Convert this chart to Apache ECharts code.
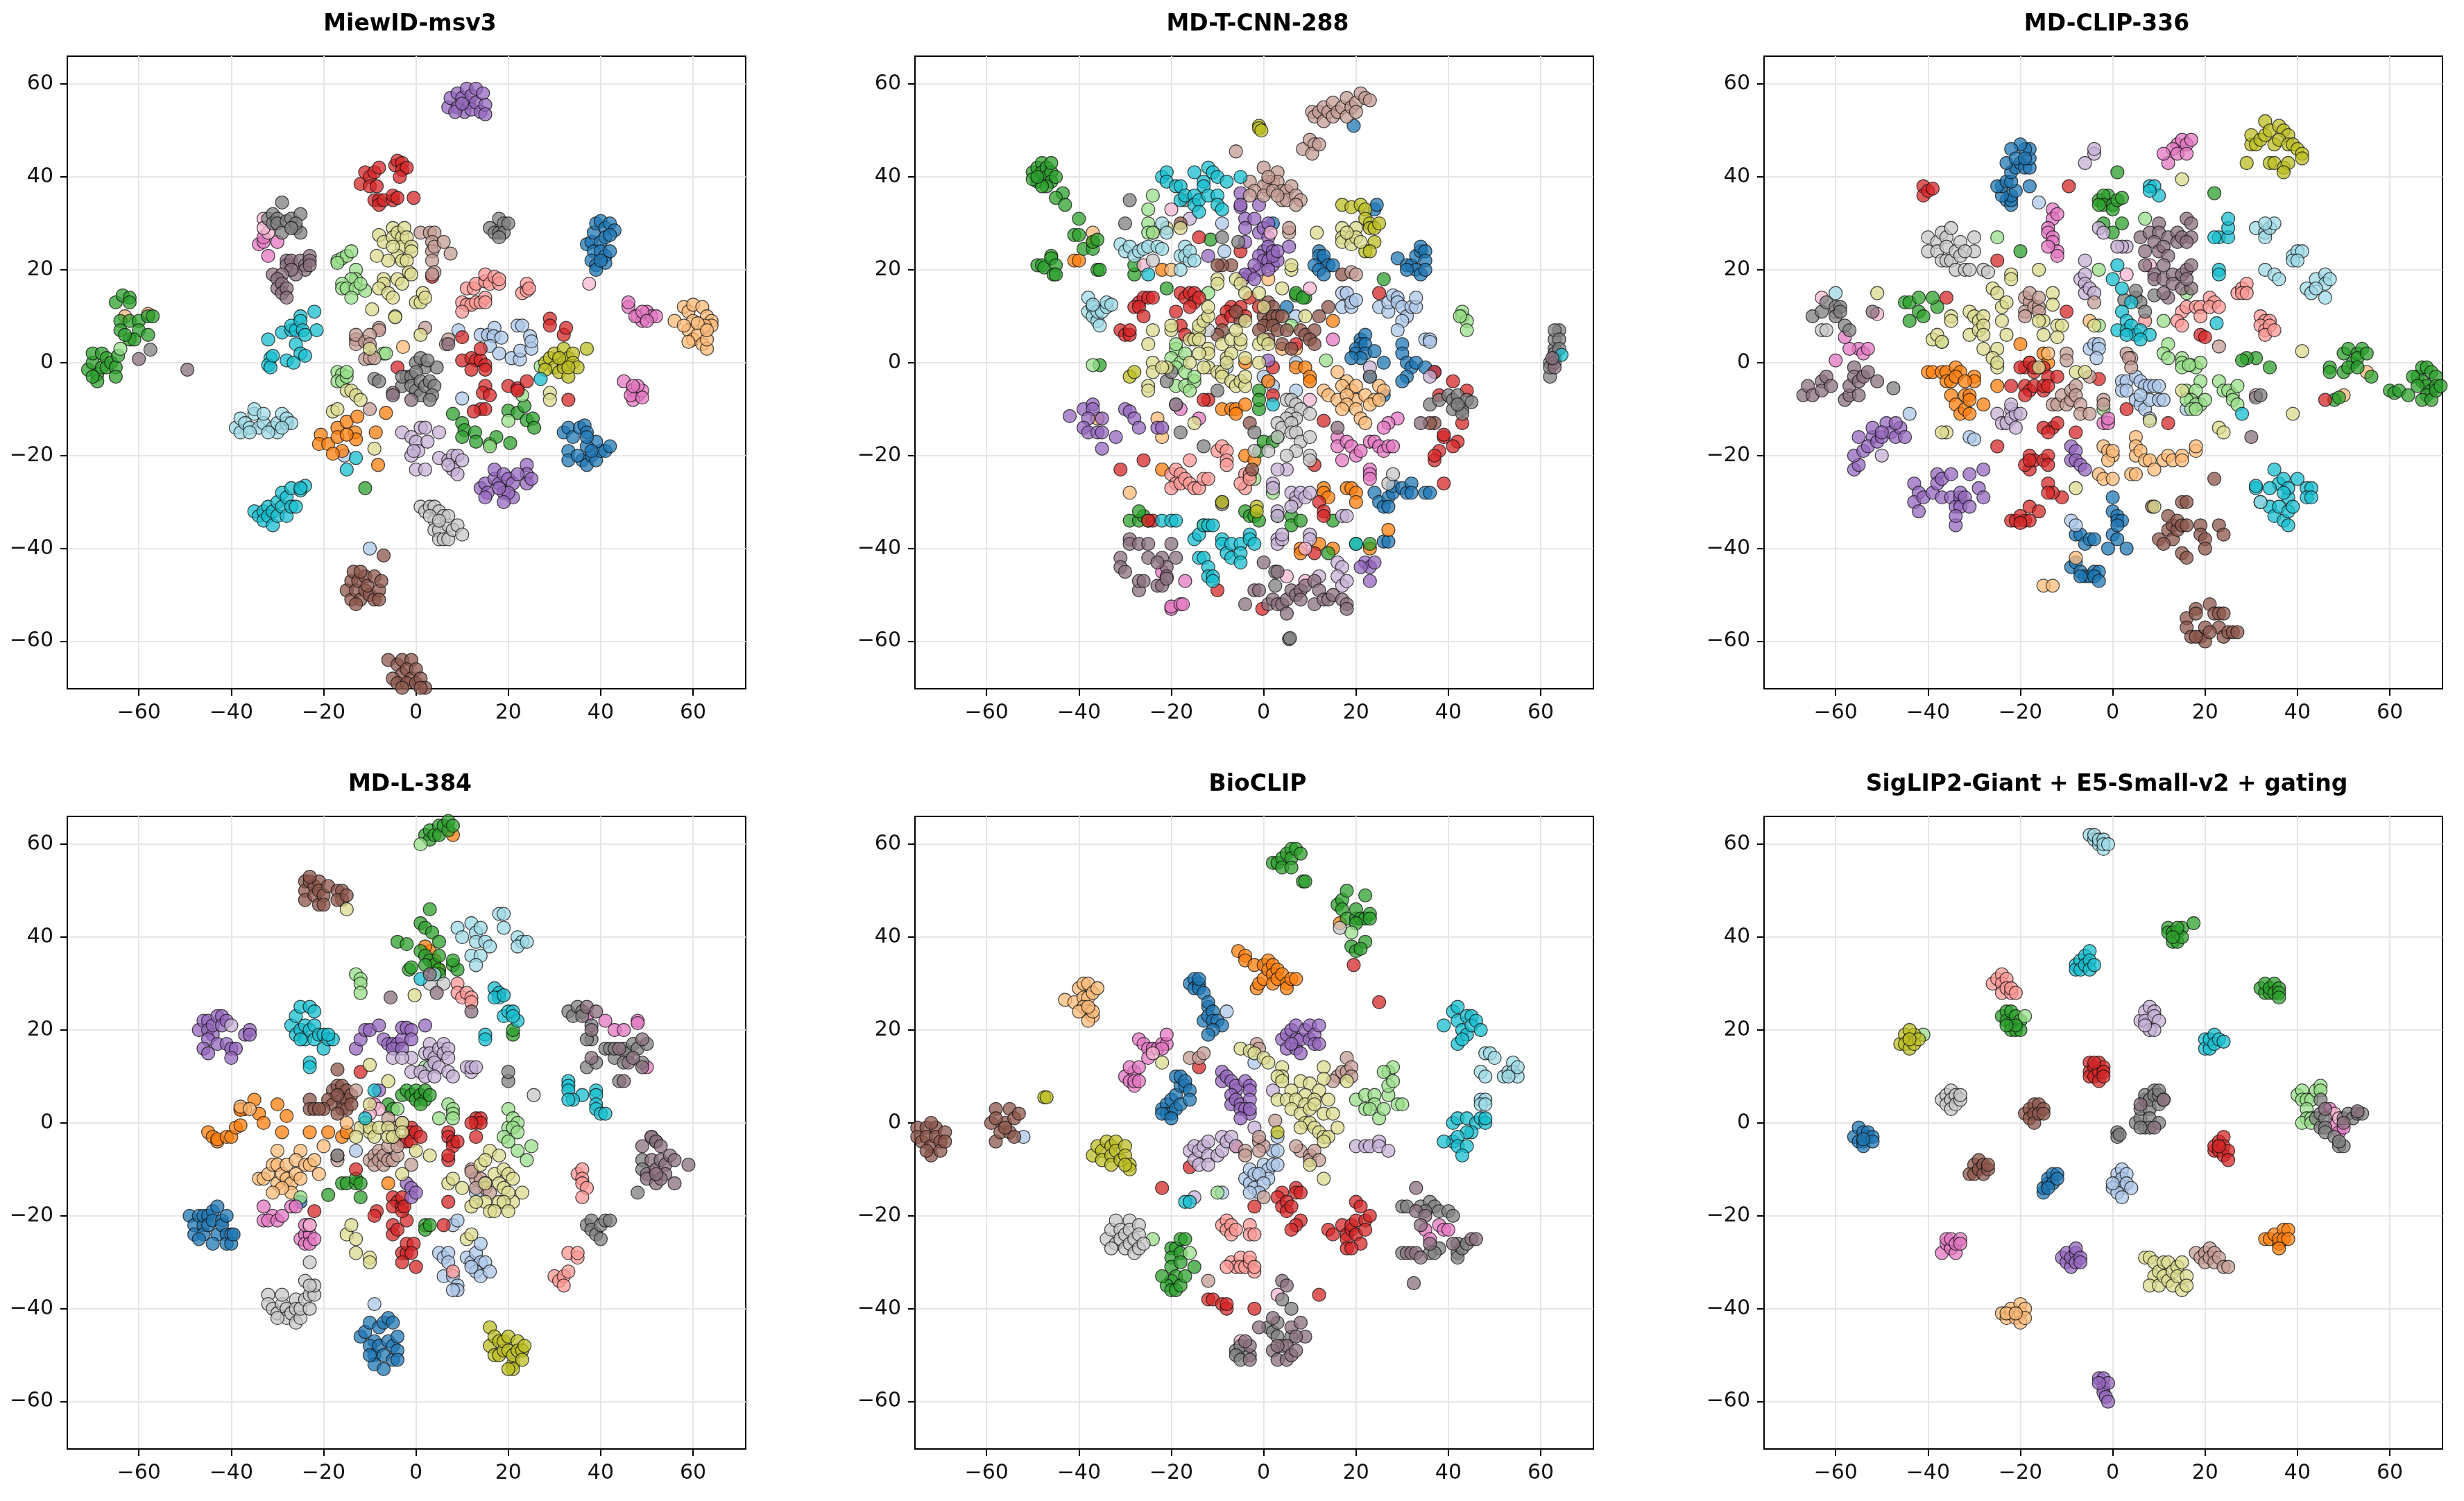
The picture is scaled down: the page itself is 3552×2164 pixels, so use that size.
<!DOCTYPE html>
<html>
<head>
<meta charset="utf-8">
<title>t-SNE embeddings</title>
<script src="https://cdn.jsdelivr.net/npm/echarts@6/dist/echarts.min.js"></script>
<style>
html,body{margin:0;padding:0;background:#fff}
#main{width:3552px;height:2164px}
</style>
</head>
<body>
<div id="main"></div>
<script>
// tab20 plus one muted mauve, the last one is where grey sits over pink in the source
const palette = ['#1f77b4','#aec7e8','#ff7f0e','#ffbb78','#2ca02c','#98df8a','#d62728','#ff9896','#9467bd','#c5b0d5','#8c564b','#c49c94','#e377c2','#f7b6d2','#7f7f7f','#c7c7c7','#bcbd22','#dbdb8d','#17becf','#9edae5','#8a6f7e'];
const titles = ['MiewID-msv3','MD-T-CNN-288','MD-CLIP-336','MD-L-384','BioCLIP','SigLIP2-Giant + E5-Small-v2 + gating'];

// each row is one palette colour, flat x,y,x,y
const miewidPts = [
[37,25.5,38,26,38.5,28,39,30,40,30.5,41,29,42,30,43,28.5,38.5,24,40,26,41,27,42,27.5,38,22,39,21,40,24,41,23,42,24,41,21.5,39,20,40,22,32,-15,33,-14,34,-16,35.5,-14,36.5,-13.5,37,-15,33,-19,33,-21,36,-21,37,-22,38,-20,39,-21,40,-19,41,-19,42,-18,39,-17,37,-18,38,-19,35,-20,37,-16],
[9.2,7,14,6,15.6,6,17,7.5,16.8,5.7,18.5,5.4,16,3.6,18,2,22,8,20.7,1,22.5,.7,22.6,2.6,24.7,5.7,25,3,25,4.6,10,-7.7,-10,-40,-15.5,-20,23,8],
[-20.6,-15.5,-21,-17.5,-19,-17.5,-17,-14,-15,-12.7,-12.7,-11.6,-13.2,-15,-13,-16.5,-16,-19,-18,-19.6,-6.5,-10.8,-8.7,-15,-8.2,-22,-17,-16,-15,-15.5],
[56,9,58,12,59,11,60,12.5,62,12,63,10,64,9,64,8,62.5,8,60,9,59,7,58,8,60,5,61,6,62,4,63,3,63,5,59,4.5,61,8.5,63,7,-2.8,3.4,-63,10,-58,10.5],
[-71,-1.5,-70,0,-70,2,-69,-2.5,-69,-4,-68,2,-68,-1,-67,1,-67,-1,-66,0,-65,-1,-65,-3,-70,-3,-64.5,1.5,-65,13,-63.5,14.5,-62,14,-62,13,-64,9,-64,7,-62,9,-60,9,-60,7,-58,10,-57,10,-58,6,-62,5,-61,5,-63,6,8,-11,10,-13,10.5,-14.5,10,-16,12.8,-15,13,-17,16,-17.5,17.4,-16,20.4,-17.3,20,-10.3,22,-10.8,23.5,-9.3,24,-12.4,25.3,-12,25.6,-14,-11,-27],
[-17,22,-16,22.5,-15,23,-14,24,-13,20,-13,18,-14,18,-16,17,-16,16,-15,16,-13,16,-11,15.5,-14,14,-12,17,-17,21.5,-17,-2,-16,-2.5,-17,-4,-16,-4,-15,-3,-15,-2,-7,2,-6.5,2,-64,3,27,-.8,20,-12.5,16,-18,23,-7],
[-12,38.5,-11,41,-10,40,-10,38,-9,41,-8.5,38,-8,42,-4.5,42.5,-4,43.5,-3,43,-3,41.5,-2,42,-3.5,40,-9,35,-8,35,-8,34,-7,35,-5,35,-5,36,-4,35.5,-.5,35.5,29,9.5,29,8,32,6,32.5,7.5,10,5.5,10,.5,12,1,13,.5,12,-1.5,14,.5,15,-.5,15,-1.5,14,3,15,-5,14.5,-6.5,16,-7,14,-10,15,-10,12.5,-10.5,20,-5,22,-5.5,22,-6,24,-4,33,-8,-4,-1,3.5,18.5],
[11,16,12.5,16,13,17,15,17.5,15,19,16,17,17,18.5,18,17,18,18,10,13,11,12.5,12,12.5,13,13,14,13,15,14,15,13,23,15,24,15.5,24,17,24.5,16,10,11],
[7,55,7.5,57,9,58,9,55,10,57,10.5,54,11,59,11.5,56,12,54.5,12,57.5,13,59,13,56,14,54,14.5,58,15,55.5,15,53.5,8.5,54,10,55.8,14,-27,15,-26,15.5,-28,17,-25,17,-23,18,-26,19,-28,19,-24,20,-25,21,-26,21,-29,20,-28,24,-22,24,-24,24,-26,25,-25,15,-29,18,-27,22,-24,19,-30],
[-3,-15,-1,-16,0,-17,1,-14,2,-14,2.5,-17,5,-15,.5,-19,0,-23,2,-23,-1,-20,-.5,-19,5,-20.5,7,-21,8,-20,9,-20,8,-23,7,-22,10,-21,9,-24],
[-15,-49,-14,-47,-13.5,-45,-14,-51,-13,-49,-12.5,-47,-12,-51,-11,-46,-11,-49,-10,-50,-10.5,-48,-9,-46,-9,-51,-8,-49,-7.5,-47,-8,-51,-12,-45,-13,-52,-6,-64,-4,-65,-3,-64,-1,-64,-3,-67,-2,-66,-1,-68,0,-66,-5,-68,-4,-69,-2,-69,0,-69,1,-68,2,-70,1,-70,-3,-70,-7,-41.5],
[1,28,3,28,4,28,3.5,26,3.5,24,4,25,3.5,22,6,26,7.5,23.5,4,19.5,3.5,19,-13,5,-13,4,-13,6,-11,4.5,-11,.8,-10,1,-8,7.5,-8,7,-9,1,2,7.5,-10,6,-10,4,6.5,4,7,5,-10,-10],
[46,12,46,13,48,10,49,9,50,11,51,10,52,10,47.5,10,49,11,50,9,45,-4,47,-6,48,-7,49,-6,47,-8,46.5,-7,48,-5,49,-7.5,47,-5,-34,25.5,-33,26,-33,27,-32,23,-30,26],
[-33,31,-32,28,37.5,17,-33,29],
[-32,31,-31,32,-31,30,-30,31,-30,30,-29,28,-29,34.5,-28,30.5,-27,31,-25,32,-26,29,-25,28,-26,30,-27,29,2,-1,0,0,1,1,-2,-3,-3,-5,-3,-3,-1,-3,-1,-5,0,-2,0,-6,1,-4,1,-7,2,-5,3,-4,4,-5,3.5,-7,4.5,-1,3,-8,-9,-3.5,-8,-4,2.5,.5,16,29,17,28,18,31,18,28,19,30,19,28,20,30,18,27,-57.5,2.8],
[1,-31,2,-32,3,-31,4,-31,5,-32,6,-33,4,-34,3,-33,4,-36,5,-36,5,-38,6,-38,7,-38,7,-35,8,-36,9,-35,10,-37,7,-33,5,-34],
[28,0,29,1,30,2,30,-1,31,-2,32,3,32,0,32,-1,33,1,33,-3,34,2,34,0,35,-1,37,3,28,-1.5,31,1,33,-1],
[-8,27.5,-7,26,-5,29,-5,27,-4,28,-3,27,-3,25,-2.5,29,-2,27,-1,25,-1,24,-4,23,-3,22,-5,25,-6,22,-2,22,-8.5,23,-7,18,-7,17,-4,18,-3,17,-8,16,-6,15,-5,14,-1.5,19.5,-1,19,0,13,1,13,1.5,15,2,14,-9.5,11.5,-4.5,10,-4.5,9.8,1,6,-10,3,-15,-6,-14,-6,-13,-7,-12,-8,-18,-10.5,-17,-10,29,-6.5,29,-8,-9,-18.5],
[-29,6.5,-27,7,-27,8,-26,7,-25,10,-25,9,-24.5,7,-24,6,-21.5,7,-32,5,-26,4,-25,2,-24,1.5,-28,.5,-26.5,0,-31.5,1,-32,-.5,-31.5,-1,-31,1.5,-35,-32,-34,-33,-33,-32,-33,-34,-32,-31,-32,-33,-31,-35,-31,-32,-30,-30,-30,-33,-29,-28,-29,-31,-28,-29,-28,-33,-27,-27,-27,-31,-26,-31,-25,-27.5,-24,-26.5,-25,-27,27,-3.5,-13,-20.5,-15,-23,-22,11],
[-39,-14,-38,-12,-38,-15,-37,-13,-36,-14,-35,-11,-35,-10,-34,-14,-33,-13,-33,-11,-31,-14,-30,-15,-30,-13,-29,-11,-28,-13,-28,-12,-27,-13,-29,-14,-32,-15,-36,-15],
[-28,22,-28,21,-27,22,-25,22,-24,21,-24,20,-26,19,-27,20,-23,23,-23,22,-23,21,-31,19,-29,19,-30,18,-30,16,-29,17,-29,15,-28,16,-28,14,-60,.8,-49.5,-1.5,-5,-6.5,-1,-8,7,4,-5,-7]
];

const mdtcnnPts = [
[24,33,24.5,34,12,24,12,23,13,22,11,21,13,23,14,21,12,20,13,19,15,21,29,22.5,31,21,32,21,33,23,34,24,34,25,35,24,35,22,33,20,34,19,35,20,31,20,21,5,22,6,21,4,20,3,20,2,22,4,22,2,21,1,19,1,24,2.5,26,0,30,4,30,2,31,0,32,-1,33,0,35,-1,37,-2,31,-3,30,-4,23,-3,24,-28,25,-30,26,-31,27,-29,27,-31,28,-28,28,-26.5,30,-27,31,-28,32,-26,32,-28,35,-28,36,-28,26,-38.5,27,-38.5,5,12,2,30,26,-7,19.5,51],
[17,15,18,15,17,12,19,12,19,13,20,13.5,25,12,27,11,27,13,28,14.5,29,14,29,13,30,12,31,10,30,9,32,12,33,12,33,14,29,7,35,5,36,5,36,4.5,-9,30,-8.5,24,0,-3,1,-4,2,-5,7,-6,7,0,-8,-1,7,10],
[-41,22,-40,22,-22,20,-9,-10,-7,-10,-6,-10,-6,-11,-4,-9,13,-27,13,-28,14,-29,18,-27,19,-27,20,-28,20,-30,-22,-23,-4,-20,-2,-21,-4,0,7,-1,9,-1,1,-4,10,-3,10,-4,8,-40,8,-41,23,-40,27,-36,15,-40,12,-39,15,9,-37,26],
[16,-2,18,-4,17,-5,19,-6,20,-5,20,-8,22,-7,24,-8,25,-5,26,-6,13,-6,14,-7,16,-8,18,-7,18,-9,17,-10,20,-10,21,-12,22,-13,23,-9,25,-8,-22,-16,-23,-12,-29,-28,-36,-12,-24,28,-20,20,-37,28,1,18,4,3,7,3],
[-50,41,-49,42,-48,43,-49,39,-48,41,-47,42,-47,40,-46,41,-46,39,-50,39.5,-47,38,-45,40,-48,38,-49,40,-46,43,-43.5,36.5,-45,35.5,-43,34,-40,31,-41,27.5,-40,27.5,-39,24.5,-37,24.5,-37,26,-36,26.5,-36,20,-35.5,20,-49,21,-48,21,-47.5,20.5,-46,23,-46,22.5,-45,21,-45.5,19,-45,19,-35.5,-.5,7,14.5,7,15,9,14,8.5,14,-11.5,26.5,-29,-34,-27,-34,-26,-33,-25,-34,-27,-32,-4,-32,-3,-33,-2,-33,-1,-34,15,-34,3,-33,6,-33,6,-35,8,-34,20,-39,-1,-19,0,-17,2,-17,3,-16,-1,-10,-21,16,-28,19,-28,21,26,18,-1,-6,-1,-8,14,-41,23,-39],
[-24,36,-25,33,-25,30,-25,28,-24,28,-19,3,-20,1,-18,0,-17,2,-19,-1,-17,-2,-19,-5,-17,-5,-15,-4,-16,-6,-15,-3,-12,15,43,10,43,11,44,9,44,7,42.5,10,-37,-.5,-19,4,13.5,.5,6,8,-3,-24,2,-28,-2,-25],
[-27,13,-26,14,-25,14,-28,12,-27,12,-26,10,-24,14,-31,7,-30,6,-29,6,-29,7,-18,15,-17,14,-16,15,-15,15,-15,13,-14,14,-16,12,-19,11,-14,27,-12,-8,-13,-8,-7,12,-8,11,-9,9,-7,10,-3,14,-5,12,-1,12,-4,10,2,-1,13,-12.5,-31,-23,-26,-21,-24,-34,-25,-34,7,4,-10,-49,-.3,-53,-5,24,39,-16,39,-15.5,38,-19,37,-21,37,-20,42,-17,41,-18,39,-26,12,-30,13,-32,13,-33,25,15,37,-2,41,-4,44,-6,43,-13,38,-7,11,-41,-18,8,-17,6,2,-7,11,-22],
[-20,-24,-19,-23,-18,-24,-19,-26,-20,-27,-18,-26,-17,-25,-16,-26,-15,-27,-14,-27,-13,-25,-12,-25,-10,-19,-9,-18,-8,-19,-8,-21,-8,-22,-4,-24,-3,-24,-4,-27,-5,-26,-3,-25,-16,-21],
[-1,34,-5,33.5,-4,31,-4,29,-2,31,-1,28,0,29,1,30,1,27,-4,26,0,24,1,25,2,24,-1,23,0,22,1,22,2,21,3,22,-1,20,2,23,3,24,1,20,-2,21,-3,19,-4.5,18,-4,19,-2,18,5.5,25,1,.5,-42,-11.5,-39,-10,-37,-9,-37,-10,-38,-12,-39,-14,-38,-15,-36,-15,-35,-15,-35,-12,-32,-16,-35,-18.5,-30,-10,-29,-10.5,-28,-12,-27,-14,-23,-14,-22,-14,22,-43,23,-44,23,-47,21,-44,24,-43,-5,36.5,-5,34,-12,23],
[3,-32,6,-28,7,-29,7,-30,6,-31,8,-28,9,-29,10,-28,2,-26,2,-27,3,-33,3,-38,3,-39,4,-38,4,-37,10,-37,10,-38,17,-33,18,-33,16,-43,17,-44,16,-46,17,-48,18,-47,12,-46,-16,31,5,-23,3,-23,23,-1,36,-3],
[1,13,2,12,0,10,1,9,2,10,3,10,4,10,0,8,2,8,3,7,-1,7,5,7,8,7,9,6,11,7,10,5,11,4,-9,7,-10,6,-5,9,-6,11,14,12,4,4,6,3,-7,21,-9,21,-10,21,17,19,37,-13,36,-13,-18,30,-3,-13,-2.5,-23,12,10,1,5],
[-6,45.5,0,42,1,39,2,39,3,41,3,39,1,37,0,38,-3,39,-2,37,4,37,5,37,6,38,4,35,5,35,7,36,8,35,7,34,0,36,2,37,1,40,3,36,5.5,28,5.5,29,-3,36,10.5,54,11,53,12,54,13,52,13,55,14,54,15,53,15,56,16,54,17,55,18,53,18,57,19,55,20,56,20,54,21,58,22,57,23,56.5,8.5,46,10,48,11,47,10.5,45,12,47,19,19.5,20,19],
[16,-16,16,-18,17,-21,18,-17,19,-18,20,-20,21,-19,23,-17,24,-17,25,-18,26,-19,27,-18,28,-18,23,-23,23,-24,23,-25,29,-12,27,-13,26,-14,-20,-53,-20,-52.5,-18,-52,-17.5,-52,-17,-47,-14,-12,-18,-10,15,5,-22,-45,-19,-9],
[1.5,28,-20,33,10,-8,9,-47,-26,21,10,16,9,-40,5,-46],
[36,-9,38,-8,40,-7,41,-8,42,-7,41,-10,43,-10,43,-11,44,-8,45,-8.5,42,-9,62,-3,62,0,63,1,63,3,63,5,64,7,63,7,64,5,63,2,62,-1,63,0,64,3,-29,35,-30,30,-17,35,-9,27,-10,-6,-18,-15,-19,-9,-13,-18,-9,-30,-9,-30.5,-21,-4,-20,-2,-5.5,26,5.5,-59.5,5.7,-59.3,2.5,-48,2.5,-45,23,-3,-2,-15],
[5,-8,6,-8,7,-9,6,-11,8,-10,7,-12,5,-12,3,-13,4,-14,6,-13,6,-15,7,-15,8,-17,10,-11,10,-16,3,-16,7,-19,5,-20,10,-20,10,-21,27,-26,28,-24,-2,-19,1,-19,-24,22,-12,7],
[-1,51,-1,50.5,-.5,50,17,34,19,33.5,21,34,22,33,22,31,23,30,23,29,24,29,25,30,24,26,22,24,23,24,-1.5,-31,-1.5,-32,-9,-30,-29,-3,-28,-2,-13,-35],
[17,29,17,27,17,26,19,27,19,25.5,20,29,20,27,21,26,18,28,-24,7,-20,7,-16,5,-15,5,-14,7,-14,5,-14,8,-13,9,-12,10,-12,3,-12,2,-14,2,-12,-1,-13,-1,-8,1,-7,2,-9,4,-7,5,-5,4,-5,5,-6,7,-4,9,-4,1,-1,4,0,5,1,4,-24,0,-21,-1,-16,0,-10,-2,-9,-2,-9,-3,-7,-4,-6,-5,-5,-4,-4,-5,-4,-3,-25,-5,-25,-6,-25,4,-20,8,-10,18,-10,17,-6,18,-5,17,-4,15,0,12,4,16,6,20,6,21,-12,12,-1,15,9,10,-1,0,11.5,28,-15,-13,-21,29,-18,29,-24,-2,-22,-1,-8,0],
[-22,-34,-20,-34,-19,-34,-15,-38,-14,-37,-13,-35,-12,-35,-11,-35,-14,-42,-13,-42,-12,-44,-12,-46,-11,-46,-11,-47,-9,-38,-9,-39,-8,-41,-7,-39,-7,-42,-5,-39,-5,-41,-5,-43,-3,-37,-3,-38,-2,-39,-25,19,2,-9,20,-39,64.5,1.7,-22,40,-21,41,-21,39,-19,38,-18,38,-18,35,-17,36,-15,41,-15,36,-15,34,-14,35,-14,32.5,-13,39,-13,38,-12,42,-12,36,-11,41,-10,40,-10,36,-10,34,-9,33,-8,39,-5,40],
[-31,25.5,-30,24,-29,25,-28,23,-27,24,-26,24.5,-25,25,-23,25,-22,24.5,-22,30,-21,28,-18,23,-17,25,-17,23,-16,22,-16,24,-15,22,-18,20,-38,14,-38,11,-37,12,-37,10,-36,9,-36,11,-35,11,-34,12,-34,13,-33,12.5,-37,12.5,-35.5,8],
[-31,-42,-31,-44,-30,-45,-29,-38,-29,-39,-27,-39,-25,-39,-25,-42,-22,-42,-21,-44,-21,-46,-19,-42,-20,-39,-27,-49,-27,-47,-26,-47,-23,-48,-22,-48,-21,-46.5,-4,-52,-2,-49,-1,-49,0,-43,1,-52,2,-51,3,-52,3,-45,4,-52,5,-51,5,-54,6,-49,7,-50,8,-49,8,-51,9,-48,11,-47,11,-52,12,-49,13,-51,14,-51,15,-50,17,-51,18,-52,18,-53,63,-1,62.5,1,16,-14,34,-13,-23,-43]
];

const mdclipPts = [
[-23,35,-22,34,-22,35,-22,36,-21,37,-24,36,-24,38,-25,38,-23,39,-22,39,-22,41,-21,42,-20,43,-19,42,-18,42,-18,44,-18,46,-19,46,-20,47,-22,46,-23,43,-18,38,-21,44,-19,44,0,-29,0,-32,1,-33,1,-34,2,-34,0,-37,1,-35,1,-38,3,-40,-1,-40,-8,-37,-7,-37,-6,-39,-5,-38,-4,-38,-9,-44,-8,-43,-7,-45,-6,-46,-5,-46,-4,-45,-3,-45,-4,-46,-3,-47,-7,-46],
[-16,34.5,-44,-11,-31,-16,-30,-16.5,-5,3,-4,4,-3,4,-3,3,-3.5,1,2,-4,3,-4,5,-3,6,-4,7,-5,8,-5,9,-5,10,-5,2,-6,3,-6,5,-8,6,-9,7,-10,8,-8,10,-8,11,-8,6,-7,8,-12,16,-10,-9,-34,-8,-35],
[-40,-2,-39,-2,-37,-2,-36,-2,-34,-1,-36,-4,-35,-4,-33,-2,-30,-3,-30,-4,-35,-7,-34,-9,-32,-7,-31,-7,-33,-11,-32,-10,-31,-11,-28,-9,-31,-8,-25,-5,-20,4,-15,2,-14,0,-34,-3,-32,-4],
[-2,-18,-1,-19,0,-20,-1,-21,0,-19,5,-16,5,-18,5,-20,6,-19,7,-21,8,-21,9,-23,11,-21,12,-20,13,-21,15,-20,15,-21,18,-19,18,-18,-3,-24,-2,-25,0,-25,4,-24,5,-24,-15,-48,-13,-48,-8,-42,50,-7,-5,9,55,-2,-18,0,-14,2],
[-45,13,-44,13,-42,14,-42,11,-41,10,-44,9,-38,12,-39,14,-1,36,-3,35,-2,36,-2,34,-3,34,0,34,0,33,1,35,2,35.5,1,41,2,30,-2,30,0,28,-20,24,22,36.5,31,1,29,1,28,.5,34,-1,50,2,51,3,52,0,53,2,54,3,53,1,55,2,47,-1,47,-2,50,-2,51,-1,53,-1,60,-6,61,-6.5,62,-6,64,-7,66,-3,67,-1,68,-1,69,-2,70,-3,67,-4,68,-5,69,-6,70,-5,68,-7,67,-8,69,-8,70,-6,71,-5,65,-3,66,-5,48,-8,49,-7.5,56,-3],
[-25,27,-37,4.5,-3,20,-3,8,11,9,12,4,11,2,12,1,15,1,15,0,15,-1,17,-.5,18,-1,19,0,16.5,-.5,16,-6,19,-4,18,-6,17,-8,16,-8,19,-9,18,-9,20,-8,23,-4,24,-6,25,-6,26,-7,27,-5,26,-8,27,-9,17,-10,18,-10,7,31,16,15,-2,-10],
[-41,38,-41,36,-40,37,-39,37.5,-9.5,38,-10,11,-19,-1,-20,-1,-18,0,-17,-2,-17,-1,-15,-1,-14,-3,-12,-3,-19,-5,-18,-6,-17,-5,-15,-6,-15,-5,-14,-5,-13,-14,-15,-14,-14,-15,-12,-13,-11,-29,-14,-26,-13,-28,-14,-28,-18,-20,-18,-23,-19,-22,-17,-21,-15,-21,-14,-20,-14,-22,-18,-21,-22,-34,-21,-34,-20,-33,-19,-34,-18,-31,-16,-32,-18,-34,-20,-34.5,12,-13,3,-10,-3,-3.5,19,6,20,5.5,-36,14,-25,22,-22,-5,-25,-18,-8,-15,-19,-7,46,-8],
[15,11,16,12,14,9,15,8,18,12,19,12,19,10,21,14,22,13,21,12,23,12,27,15,28,16,29,17,28,15,29,15,32,10,33,9,34,9,32,8,33,7,34,8,33,6,35,7,7,9],
[-56,-23,-55,-22,-56,-20,-54,-19,-55,-16,-52,-16,-53,-18,-51,-17,-50,-16,-49,-13,-48,-15,-47,-16,-46,-14,-45,-16,-52,-14,-47,-13,-50,-15,-43,-26,-42,-28,-43,-30,-42,-32,-41,-29,-39,-28,-38,-24,-38,-26,-37,-25,-35,-24,-37,-29,-35,-29,-34,-31,-33,-29,-33,-28,-33,-31,-32,-29,-31,-31,-31,-24,-29,-27,-28,-23,-28,-29,-34,-35,-34,-33,-9,-18,-9,-21,-8,-19,-8,-21,-7,-22,-6,-23],
[-6,43,-4,45,-4,46,3,25,2,25,-3,29,-2,28,1,25,-7,18,-6,19,-6,17,-6,15,-5,16,-4,15,-6,22,-25,-11,-24,-13,-23,-13,-22,-10,-22,-12,-21,-11,-21,-14,-20,-11,-50,-20,-22,-9],
[12,-36,13,-35,13,-38,14,-36,12,-33,14,-34,15,-35,10,-38,11,-39,16,-35,15,-30,16,-30,15,-41,16,-42,19,-35,19,-37,20,-38,20,-40,23,-35,24,-37,22,-25,8.5,-31,16,-55,16,-57,18,-53,18,-54,17,-59,19,-59,20,-57,20,-60,21,-52,22,-54,23,-54,23,-57,24,-59,24,-54,25,-58,26,-58,27,-58,21,-58,18,-59],
[-19,14,-18,13,-19,11,-18,15,-17,12,-16,12,-19,10,-16,11,-13,-9,-12,-9,-11,-7,-10,-9,-9,-8,-9,-6,-8,-5,-8,-7,-7,-9,-7,-11,-5,-11,-2,-8,-2,-9,-4,13,-5,-3,3,2,4,1,3.5,1,23,3.5,-10,2,-10,.5,4,-1,-16,14],
[-13,33,-13,31,-12,32,-14,29,-14,28,-13,27,-13,26,-12,24,-14,25,-12,23,14,47,15,48,16,47,17,48,13,46,12,43,14,45,16,45,11,45,-2,-13,-1,-13,-1,-12,-60,.5,-55,3,-54,2,-53,3,-57,3,-58,5.5],
[-63,14,3,19,8,21,-60,11,-51,10.5,31,-7],
[-65,10,-63,11,-62,13,-60,12,-59,12,-60,10,-59,11,-58,8,-57,7,-47.5,-5.5,31,-7.5,5,14,6,13,5,15.5,2.5,13.5,7,11,32,-7,9,14.5],
[-40,27,-40,24,-38,26,-37,28,-36,27,-35,29,-38,24,-36,25,-37,22,-36,22,-35,22,-34,24,-33,26,-33,23,-34,20,-32,20,-31,20,-30,24,-30,27,-28,20,-27,19.5,-32,24,-63,7,-62,7],
[29,43,30,47,30,49,31,47,32,48,33,52,33,49,34,50,35,47,36,51,37,50,38,49,36,48,38,47,39,47,40,46,41,45,41,44,34,43,35,43,37,42,38,43,37,41],
[-51,15,-39,5,-38,6,-37,4.5,-35,10,-35,9,-31,11,-31,6,-30,10,-29,9,-29,7,-28,10,-28,8,-28,6,-28,3,-26,16,-25,15,-24,12,-23,13,-24,9,-25,3,-26,1,-25,-1,-23,6,-22,19,-22,18,-16,20,-16,-1,-15,6,-13,15,-13,12.5,-15,9,-16,9,-12,8,-11,8,-12,5.5,-8,-2,-6,-2,-4,8,-25,0,-36,-15,-37,-15,23,-14,24,-15,15,39.5,39,-11,41,2.5,15,-6,-8,-27,9,-31,8,-12.5],
[8,38,9,38,10,36,8,37,23,27,25,27,25,29,25,31,22,27,23,20,23,19,0,18,1,21,2,16,2,11,4,13,1,7,3,9,3,7,4,8,5,6,3,6,6,7,8,6,6,5,31,-27,31,-26.5,32,-30,34,-31,35,-33,36,-31,37,-34,38,-32,38,-35,38,-29,39,-31,36,-26,37,-25,38,-27,35,-23,37,-28,40,-25,42,-27,43,-27,42,-29,43,-29,34,-27,22.5,8.5,28,-11],
[31,29,33,28,33,27,34,29,35,30,33,30,33,20,35,19,36,18,39,23,40,24,39,22,41,24,40,22,42,16,43,15,44,18,46,19,46,17,47,18,46,14,-60,15,32,-30,44,16],
[-67,-7,-66,-5,-65,-7,-63,-4,-63,-6,-62,-3,-61,-5,-58,-8,-57,-7,-57,-5,-56,-1,-56,-3,-55,-7,-55,-4,-54,-3,-53,-2,-51,-4,6,27,8,28,10,30,10,28,12,27,14,28,16,31,17,30,14,26,15,27,17,27,16,26,7,24,9,26,10,24,11,25,12,23,7,21,11,21,9,19,9,18,11,18,12,14,13,19,13,17,15,16,15,19,16,20,17,21,17,16,16,18,30,-16,-52,11,11,15]
];

const mdlPts = [
[-49,-20,-48,-22,-48,-24,-47,-20,-46,-22,-46,-24,-46,-20,-45,-20,-45,-22,-44,-19,-44,-21,-43,-18,-43,-24,-42,-21,-42,-22,-41,-24,-41,-26,-40,-24,-40,-26,-41,-20,-44,-26,-47,-25,-39.5,-24,-12,-46,-11,-45,-10,-43,-9,-47,-8,-44,-7,-43,-6,-42,-5,-43,-10,-48,-9,-50,-9,-52,-8,-48,-7,-50,-7,-53,-6,-47,-5,-48,-5,-51,-4,-46,-4,-49,-4,-51,-10,-50,-25,-17],
[5,-28,6,-29,7,-28,7,-30,11,-29,12,-30,13,-28,14,-26,14,-30,13,-32,14,-33,15,-30,16,-32,12,-31,6,-33,8,-33,9,-35,9,-36,8,-36,-13,-6,-9,-39,8,-22,9,-21,13,-15],
[-45,-2,-44,-3,-43,-4,-43,-3.5,-41,-3,-40,-3,-39,-1,-38,-.5,-38,3,-37,3,-35,5,-34,2,-33,0,-30,4,-28,1.5,-29,-2,-23,-2,-19,-2,-16,-3,-15,-2,-6,-13,-38,2.8,4,33,5,33,8,62,3,37,2,38,4,35],
[-34,-12,-33,-12,-32,-11,-31,-9,-30,-9,-30,-13,-29,-11,-28,-12,-28,-9,-27,-13,-27,-15,-29,-14,-26,-11,-25,-12,-25,-6,-26,-8,-24,-9,-23,-9,-22,-8,-21,-11,-30,-6,-15,0,-20,-5,-31,-15,-38,3.5,-36,3],
[2,62,3,61,3,63,4,62,5,64,5,62,6,64,7,63,7,65,8,64,3,46,1,43,2,42,3.5,41,-4,39,-2,38.5,1,37,2,36,3,35,4,34,5,33,5,32,5,36,5,39,2,34,8,34,9,33,8,35,-1.5,33,-1,33.5,-3,6,-2,7,-1,6,0,7,0,5,1,6,2,5,2,7,3,6,1,4,-6,4,-5,3,-16,-13,-15,-13,-13,-13,-13,-12,-12,-13,-12,-16,-19,-15.5,2,-22,2,-23,3,-22,21,19,21,20],
[-13,32,-12,31,-12,30,-12,28,7,4,8,3,8,2,5,1,8,1,-4,3,20,-1,20,3,21,1,22,0,21,-1,22,-2,19,-3,20,-4,22,-6,25,-5,24,-8,-25,-16,2,12,1,60],
[-12,11,-8.5,-19,-9,-20,-5,-16,-4,-17,-5,-18,-3,-18,-3,-16,-2,-21,-5,-22,-5,-24,-4,-23,-3,-19,-2.5,-18,-3,-28,-2,-28,-2,-26,-.5,-26,-3,-30,-1,-28,0,-31,-3,-4,-2,-4,-1,-1,-1,-2,-1,-4,0,-2,1,-3,7,-2,7,-3,8,-4,8,-5,9,-4,7,-8,7,-7,13,1,13,0,14,1,14,0,13,-3,12,0,6,-22,7,-17,-22,-19,-13,-10],
[9,30,9,28,10,27,11,28,12,27,12,26,30,-33,31,-34,32,-33,32,-35,33,-32,33,-28,35,-29,35,-28,35,-11,36,-10,36,-12,36,-13,37,-14,36,-16,8,-32],
[-47,20,-46,22,-45,22,-45,20,-44,19,-44,21,-43,23,-42,23,-42,21,-41,22,-45,18,-43,17,-41,17,-40,16,-39,16,-40,14,-46,16,-45,15,-37,19,-36,20,-36,19,-13,16,-12,18,-11,20,-10,20,-8,21,-7,18,-6,17,-5,17,-4,17,-3,18,-3,20.5,-2,20.5,-1,20,2,21,-1,18,-5,16,-3,16,-2,-13,-1,-14,-1,-16,0,-15,-8,7],
[-5,14,-1,14,2,15,3,17,3,15,4,14,5,16,6,17,6,15,7,16,7,14,3,12,4,13,5,12,-1,11,1,11,2,10,4,10,7,11,8,10,11,12,12,11,12,12,13,12,-3,14,-40,21],
[-24,52,-24,50,-24,48,-23,52,-22,51,-22,49,-21,52,-21,50,-21,47,-20,49,-19,51,-17,50,-16,50,-16,48,-17,48,-23,53,-20,47,-15,49,-18,7,-17,8,-16,8,-15,7,-19,5,-18,4,-16,5,-16,3,-15,5,-15,3,-14,6,-14,4,-17,2,-23,5,-23,3,-22,3,-17,6,-17,11.5,-20,3,-21,3],
[-10,-8,-9,-7,-9,-9,-8,-6,-8,-8,-7,-9,-7,-7,-6,-5,-6,-8,-5,-8,-4,-7,-5,-1,-3,0,-1,-9,-4,-5,-17,-8,-17,-7,12,-10,13,-12,14,-12,15,-13,15,-14,16,-15,13,-14,-5,-3,-6,1,12,-10.5,-13,7],
[37,23,41,22,43,20,45,20,48,22,48,21.5,-33,-18,-33,-21,-31,-20,-32,-21,-30,-21,-29,-20,-27,-18,-26,-18,-25,-25,-24,-24,-24,-26,-23,-24,-23,-26,-22,-25,-24,-22,-23,-22,50,12,-9,4],
[-8,3,-10,2,-23,-22],
[33,24,34,23,35,25,36,24,36,23,38,18,37,18,37,12,39,13,44,9,20,9,20,11,38,21,41,16,42,16,43,14,43,16,45,16,46,15,45,13,47,17,48,16,50,17,49,13,37,-22,38,-21,38,-23,39,-24,40,-22,41,-21,42,-21,40,-25,49,-8,49,-10,51,-3,52,-4,48,-15,-17,-7],
[-32,-37,-32,-39,-31,-40,-30,-41,-29,-39,-29,-37,-28,-40,-28,-42,-27,-41,-26,-38,-26,-40,-26,-43,-25,-42,-25,-40,-24,-38,-24,-34,-23,-37,-23,-40,-22,-37,-22,-35,-23,-35,-30,-42,-23,-30,25.5,6,3,30,6,30],
[16,-44,16,-48,17,-46,17,-50,18,-47,18,-50,19,-49,19,-47,20,-46,20,-49,21,-52,21,-50,21,-53,22,-47,22,-49,23,-49,23,-51,23.5,-48,20,-53],
[-15,46,-10,12.5,-6,9,-10,4,-11,0,-12,-1,-10,-2,-10,-1,-9,-3,-8,-1,-6,-1,-6,-3,-5,-3,-3,0,-3,-2,-13,-3,3,-7,7,-13,8,-12,-3,-11,16,-6,18,-7,14,-9,15,-8,15,-13,17,-11,19,-10,20,-11,21,-12,18,-13,19,-14,21,-17,23,-15,20,-15,18,-17,19,-17,20,-19,15,-17,16,-19,17,-19,12,-18,13,-17,10,-14,11,-25,12,-24,-15,-24,-14,-22,-13,-25,-13,-28,-10,-29,-10,-30,0,-6,-.3,27.5],
[-27,21,-26,19,-26,23,-25,20,-25,25,-24,21,-24,18,-23,25,-23,20,-22,24,-22,18,-22,21,-21,19,-20,19,-20,16,-19,18,-18,18,-23,13,-23,12,-19,19,-25,18,-9,7,-11,1,17,29,18,28,18,27,17,27,19,27.5,15,19,15,18,19,23,20,24,21,24,22,22,21,23,33,9,33,8,33,7,39,7,39,6,39,4,39,3,40,2,41,2,36,6,34,5,33,5,1,31],
[9,42,10,40,12,43,13,41,14,42,13,39,15,39,12,36,14,36,13,34,16,38,18,45,19,45,19,42,22,40,23,39,22,38,24,39,4,32],
[51,-3,52,-4,53,-5,49,-5,50,-11,50,-12,51,-8,52,-10,52,-13,53,-8,54,-9,54,-11,55,-7,56,-8,56,-13,59,-9,53,-12,52,-11,37,25,39,24,38,20,38,14,44,16,46,13,47,14,49,18,45,9,49,12,-5.5,27,3,32,4.5,28,12,24]
];

const bioclipPts = [
[-16,30,-15,31,-15,29,-14,30,-14,29,-13,28,-14,31,-13,22,-12,25,-12,23,-12,26,-11,24,-11,22,-10,22,-9,21,-11,20,-12,19,-22,3,-21,4,-21,2,-20,5,-20,2,-19,3,-19,6,-18,4,-18,8,-19,10,-18,10,-17,8,-17,9,-16,7,-16,5,-22,2,-20,1],
[-8,24,-2,13,-4,-12,-3,-10,-3,-13,-2,-14,-2,-11,0,-9,1,-10,1,-12,-1,-11,0,-13,-1,-15,-3,-15,2,-9,3,-9,2,-6,3,-6,-52,-3,3,-3,-9,-15],
[-5.5,37,-4,36,-4,35,-2,34,-1.5,29,-1,30,0,31,0,34,1,35,1,33,2,34,2,32,2,30,3,33,3,31,4,32,5,30,5,29,6,31,7,31,16.5,43],
[-43,26.5,-41,26,-40,29,-39,30,-39,27,-38,27,-38,30,-37,28,-36,29,-39,25,-38,24,-37,23,-38,22,-37,24,-40,24,-38,25],
[2,56,3,56,4,57,4,55,5,58,6,59,6,57,6,55,7,59,8,58,8.5,52,9,52,16,47,17,48,18,50,22,49,17,46,18,44,20,44,20,46,21,44,22,44,23,45,23,44,20,43,19,38,20,37,22,39,21,37.5,-20,-27,-19,-27,-20,-29,-20,-31,-18,-28,-18,-25,-17,-25,-19,-33,-20,-34,-21,-35,-20,-36,-19,-36,-18,-35,-17,-33,-15,-31,-22,-33,-18,-30],
[-24,-25,-10,-15,19,41,20,5,22,6,24,6,24,4,22,3,23,3,25,1,26,3,27,6,27,11,28,12,26,11,27,8,28,9,29,4,30,4,-16,-28],
[-22,-14,-12,-38,-11,-38,-9,-39,-8,-40,-8,-39,12,-37,4,-15,3,-16,4,-18,5,-17,5,-19,6,-18,7,-14,7,-15,8,-15,8,-21,7,-22,6,-23,14,-23,15,-24,17,-22,18,-24,18,-25,18,-27,19,-23,19,-22,20,-17,21,-18,20,-24,20,-21,21,-26,22,-21,22,-23,23,-20,19,-27,-14,12,-6,-5,-16,-9.5,-2,-18,-2,-40,19.5,34,25,26],
[-9,-22,-8,-21,-8,-23,-7,-22,-7,-24,-6,-23,-3,-22,-3,-24,-2,-24,-7,-30,-6,-31,-5,-29,-8,-31,-5,-31,-4,-31,-3,-30,-3,-29,-2,-32,-2,-31],
[-9,11,-9,9,-8,10,-7,9,-6,7,-6,8,-7,6,-7,4,-6,5,-5,4,-5,3,-4,9,-3,8,-3,7,-3,5,-4,3,-3,2,-5,1,-3,3,4,18,5,16,5,19,6,20,7,18,7,16,7,21,8,18,9,20,10,18,10,21,11,19,11,17,12,21,12,17,6,17,8,15],
[-16,-6,-15,-5,-15,-8,-14,-9,-14,-6,-13,-5,-12,-4,-12,-7,-12,-9,-10,-7,-9,-6,-9,-3,-8,-4,-7,-3,-6,-5,-2,-1,2,7,20,-5,22,-5,23,-5,25,-4,25,-5,27,-6,-15,-16],
[-75,-1,-75,-3,-74,-4,-73,-1,-73,-3,-72,-5,-72,-7,-71,-1,-71,-3,-70,-4,-70,-6,-69,-2,-69,-4,-73,-6,-72,0,-59,0,-58,3,-58,-4,-57,-2,-56,0,-55,-2,-55,3,-54,1,-54,-3,-53,2,-58,1,-56,-1],
[-16,14,-14,14,-13,15,-1.5,17,-1,16,2.5,.5,-4,-6,-1,-4,0,-5,-1,-6,-1,-3,8,-6,7,-5,10,-7,10,-8,11,-6,12,-8,16,10,17,11,18,14,18,11,19,12,19,10,15,9,-12,-34,0,-16,-4,-7],
[-27,18,-26,17,-25,16,-24,16,-23,16,-22,17,-21,17,-21,19,-22,16,-30,10,-29,9,-28,8,-28,11,-28,9,-27,9,-29,12,-27,12,-25,14,35,-23,36,-25,38,-22,39,-23,40,-23],
[3,-37,-24,15,-5,-47],
[30,-18,31,-18,34,-18,36,-17,37,-18,38,-19,40,-19,41,-20,35,-19,30,-28,42,-26,42,-28,42,-29,43,-27,44,-26,38,-27,36,-28,37,-28,-3,-50,-6,-49,-5,-48,-6,-50,-5,-51,1,-44,2,-45,3,-46,3,-43,4,-48,6,-46,6,-40,4,-38],
[-34,-25,-33,-23,-32,-21,-32,-26,-31,-23,-31,-25,-30,-27,-30,-24,-29,-21,-29,-23,-29,-26,-28,-28,-28,-25,-27,-22,-27,-24,-27,-27,-26,-26,-33,-27,16.5,42],
[-47.5,5.5,-47,5.5,-37,-7,-36,-5,-35,-6,-35,-8,-34,-4,-33,-5,-33,-7,-33,-9,-32,-4,-32,-6,-31,-8,-30,-5,-30,-7,-29,-9,-29,-10,-30,-9,3,-2],
[-5,16,-3,15.5,-2,15,0,14,1,13,4,12,4,10,3,10,4,9,13,12,13,9.5,8,9,10,8.5,6,7,9,6,12,7,3,5,5,5,7,5,9,4,11,5,14,5,6,3,8,2,10,3,11,4,13,2,15,2,9,0,10,0,11,-1,8,-1,12,-2,13,-3,14,-3,13,-4,16,-1,-22,13,10,-9,13,-12,18,9],
[39,21,41,24,42,22,42,25,43,20,44,23,44,19,45,23,45,21,46,22,47,20,42,17,43,18,41,0,42,1,44,1,46,0,47,1,48,0,48,1,45,-2,44,-2,41,-4,42,-3,42,-5,44,-5,39,-4,43,-7,-17,-17,-16,-17],
[48,15,49,15,50,14,47,11,48,10,47,5,48,5,47,4,48,4,52,10,53,11,54,13,54,11,55,10,55,12,53,10],
[33,-14,33,-19,35,-20,34,-22,31,-28,32,-28,33,-28,34,-29,45,-25,46,-25,32.5,-34.5,4,-34,5,-35,-1,-44,2,-42,2,-49,3,-51,5,-51,5,-48,6,-50,7,-49,6,-44,8,-43,9,-46,-3,-48,-3,-51,-4,-47,36,-26,41,-26,7,-46,3,-48]
];

const siglipPts = [
[-56,-3,-55,-1,-55,-4,-54,-2,-54,-4,-54,-5,-53,-3,-53,-2,-52,-3,-52,-4,-54,-3.5,-15,-15,-15,-14,-14,-13,-14,-12,-13,-11,-13,-13,-12,-11,-12,-12,-14,-14],
[1,-11,1,-13,2,-10,2,-12,2,-14,3,-11,3,-13,4,-14,0,-14,1,-15,2,-16,0,-13],
[33,-25,34,-25,35,-24,36,-26,36,-25,37,-23,37,-25,38,-23,38,-25,36,-27],
[-24,-41,-23,-42,-22,-41,-22,-40,-21,-42,-20,-39,-20,-41,-20,-43,-19,-40,-19,-42,-23,-41,-21,-41],
[-24,23,-23,24,-23,22,-22,24,-22,21,-22,20,-21,23,-21,20,-20,22,-20,20,-21,21,-23,21,12,42,12,41,13,41,13,39,14,41,14,39,15,42,15,40,14,42,17.5,43,13,40,32,29,33,28,33,30,34,28,34,29,35,30,35,28,36,29,36,28,36,27],
[-41,19,40,6,41,7,41,5,42,5,43,5,44,7,45,8,45,7,42,3,42,1,41,0,43,1,43,0,-19,23],
[-5,13,-5,11,-5,10,-4,12,-4,10,-3,13,-3,11,-3,9,-2,12,-2,11,-2,10,-4,13,22,-6,22,-5,23,-4,23,-6,24,-3,24,-5,24,-7,25,-6,25,-8,23,-5],
[-26,30,-25,31,-24,32,-24,30,-24,28,-23,31,-23,29,-22,28,-22,29,-21,28],
[-11,-29,-10,-30,-10,-28,-9,-31,-9,-29,-8,-28,-8,-30,-8,-27,-7,-29,-7,-30,-3,-55,-2,-55,-2,-57,-2,-58,-1,-56,-1.5,-59,-1,-60,-3,-56],
[6,22,7,24,7,22,8,25,8,20,9,24,9,23,10,22,9,20,7,21],
[-31,-11,-30,-9,-30,-11,-29,-8,-29,-10,-28,-9,-28,-11,-27,-10,-27,-9,-19,2,-18,3,-18,1,-17,4,-17,2,-17,0,-16,4,-16,2,-15,3,-15,2],
[18,-28,19,-29,20,-28,20,-30,21,-27,21,-29,22,-28,22,-30,23,-29,24,-31,25,-31],
[-37,-28,-36,-26,-36,-25,-35,-27,-35,-25,-34,-28,-34,-26,-33,-25,-33,-26,47,3,48,0,49,-2,50,-1],
[48,2,49,1],
[1,-2,1,-3,1.5,-2.5,5,0,6,1,6,3,7,-1,7,5,7,6,8,3,8,1,8,-1,8,5,9,7,9,6,10,4,10,6,10,7,11,5,10,0,6,-1,44,1,45,-1,45,2,46,1,46,-1,46,-2,45,5,48,-3,49,-5,50,-5,50,1,51,2,52,1,53,2,54,2,49,-4],
[-37,5,-36,6,-36,4,-35,7,-35,5,-35,3,-34,6,-34,4,-33,5,-33,6],
[-46,17,-45,19,-45,17,-44,18,-44,16,-43,19,-43,17,-42,18,-44,20,-44,18],
[7,-29,8,-29,9,-30,9,-33,8,-35,10,-32,10,-35,11,-30,11,-33,12,-34,12,-30,13,-32,13,-35,14,-31,14,-33,15,-36,16,-33,15,-30,16,-35],
[-8,34,-8,33,-7,35,-7,33,-6,36,-6,34,-5,37,-5,35,-5,33,-4,34,20,18,20,16,21,16,21,18,22,19,22,17,23,18,24,17.5],
[-5,62,-4,61,-4,62,-3,60,-3,61,-2,59,-2,61,-2,60,-1,60],
[6,4,9,-1,11,5,46,3,53,2.5,50,0]
];

const allPts = [miewidPts, mdtcnnPts, mdclipPts, mdlPts, bioclipPts, siglipPts];
const panelLeft = [97, 1319, 2543];
const panelTop = [81, 1177];
const panelW = 978, panelH = 912;
const xMin = -75.5, xMax = 71.4, yMin = -70.2, yMax = 66;

function toPairs(flat){
    let out = [];
    for(let i=0;i+1<flat.length;i+=2){
        out.push([flat[i],flat[i+1]]);
    }
    return out;
}
function tickText(v){
    return String(v).replace('-','\u2212');
}

let grids=[],xAxes=[],yAxes=[],series=[],titleList=[];
allPts.forEach((rows,i)=>{
    let left = panelLeft[i%3], top = panelTop[Math.floor(i/3)];
    grids.push({left:left,top:top,width:panelW,height:panelH,show:true,borderColor:'#000',borderWidth:2,backgroundColor:'#fff'});
    titleList.push({
        text:titles[i],left:left+panelW/2,top:top-67,textAlign:'center',
        textStyle:{fontFamily:'DejaVu Sans',fontWeight:'bold',fontSize:33,color:'#000'}
    });
    const axisBase = {
        type:'value',gridIndex:i,scale:true,splitNumber:7,
        axisLine:{show:true,onZero:false,lineStyle:{color:'#000',width:2}},
        axisTick:{show:true,length:10,lineStyle:{color:'#000',width:2}},
        splitLine:{show:true,showMinLine:false,showMaxLine:false,lineStyle:{color:'#e6e6e6',width:2}},
        axisLabel:{fontFamily:'DejaVu Sans',fontSize:30,color:'#111',margin:20,showMinLabel:false,showMaxLabel:false,formatter:tickText}
    };
    xAxes.push(Object.assign({},axisBase,{min:xMin,max:xMax}));
    yAxes.push(Object.assign({},axisBase,{min:yMin,max:yMax}));
    rows.forEach((row,c)=>{
        series.push({
            type:'scatter',xAxisIndex:i,yAxisIndex:i,symbolSize:19,
            data:toPairs(row),
            itemStyle:{color:palette[c],opacity:0.75,borderColor:'#111',borderWidth:1.3},
            emphasis:{disabled:true},silent:true
        });
    });
});

let Chart = echarts.init(document.getElementById('main'));
Chart.setOption({
    animation:false,backgroundColor:'#fff',
    title:titleList,grid:grids,xAxis:xAxes,yAxis:yAxes,series:series
});
</script>
</body>
</html>
